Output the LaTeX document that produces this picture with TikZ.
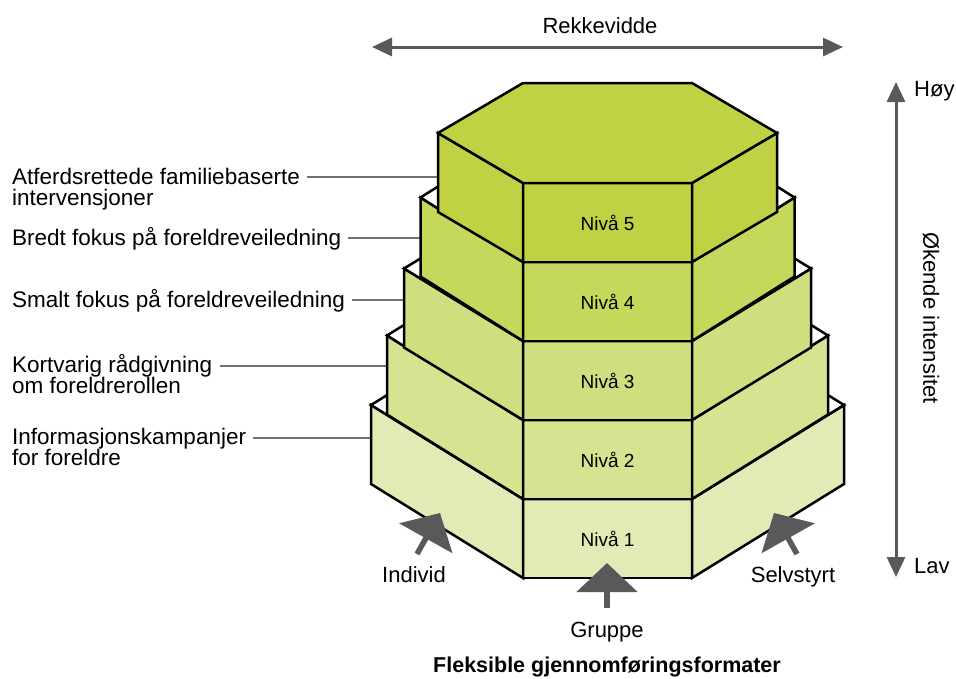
\documentclass[tikz,border=0pt]{standalone}
\usepackage{fontspec}
\setmainfont{Liberation Sans}
\usetikzlibrary{positioning,arrows.meta}

\definecolor{lvA}{RGB}{226,234,181}
\definecolor{lvB}{RGB}{215,227,145}
\definecolor{lvC}{RGB}{208,222,128}
\definecolor{lvD}{RGB}{198,216,92}
\definecolor{lvE}{RGB}{192,210,68}
\definecolor{pil}{RGB}{89,89,89}
\definecolor{strek}{RGB}{112,112,112}

\begin{document}
\begin{tikzpicture}[x=1pt, y=-1pt,
	face/.style={draw, line width=2.5pt, minimum width=169pt, minimum height=79pt, inner sep=0pt, outer sep=0pt, font=\fontsize{19}{19}\selectfont},
	side/.style={draw, line width=2.5pt},
	lab/.style={inner xsep=7pt, inner ysep=0pt, align=left, font=\fontsize{22.5}{21}\selectfont},
	txt/.style={inner sep=0pt, font=\fontsize{22}{22}\selectfont},
	leader/.style={draw=strek, line width=1.5pt},
	dbl/.style={{Triangle[length=20pt,width=18pt]}-{Triangle[length=20pt,width=18pt]}, draw=pil, fill=pil, line width=3pt},
	fat/.style={-{Triangle[length=29pt,width=60pt]}, draw=pil, fill=pil, line width=5.5pt}]
	\useasboundingbox (0,0) rectangle (956,678);

	% labels to the left (base = last line)
	\node[lab, anchor=base west] (lab5) at (5,205) {Atferdsrettede familiebaserte\\intervensjoner};
	\node[lab, anchor=base west] (lab4) at (5,245) {Bredt fokus på foreldreveiledning};
	\node[lab, anchor=base west] (lab3) at (5,307) {Smalt fokus på foreldreveiledning};
	\node[lab, anchor=base west] (lab2) at (5,393) {Kortvarig rådgivning\\om foreldrerollen};
	\node[lab, anchor=base west] (lab1) at (5,465) {Informasjonskampanjer\\for foreldre};
	\foreach \n/\x/\y in {5/438/177, 4/420.5/238, 3/404/300, 2/387/366, 1/371/438}{
		\coordinate (e\n) at (\x,\y);
		\draw[leader] (e\n) -- (e\n -| lab\n.east);
	}

	% the stack, bottom level first
	\foreach \n/\y/\dx/\dy/\col/\tc in {1/538.5/152/94/lvA/white, 2/459.5/136/84.5/lvB/white, 3/380.5/119/72.5/lvC/white, 4/301.5/102.5/64.5/lvD/white, 5/222.5/85/50/lvE/lvE}{
		\node[face, fill=\col] (niv\n) at (607.5,\y) {Nivå \n};
		\draw[side, fill=\col] (niv\n.north west) -- ++(-\dx,-\dy) -- ++(0,79) -- (niv\n.south west) -- cycle;
		\draw[side, fill=\col] (niv\n.north east) -- ++(\dx,-\dy) -- ++(0,79) -- (niv\n.south east) -- cycle;
		\draw[side, fill=\tc] (niv\n.north west) -- ++(-\dx,-\dy) -- ++(\dx,-\dy) -- ++(169,0) -- ++(\dx,\dy) -- (niv\n.north east) -- cycle;
	}

	% reach and intensity
	\coordinate (rL) at (372,47);
	\coordinate (rR) at (843,47);
	\draw[dbl] (rL) -- (rR);
	\node[txt, anchor=base] (range) at (600,33) {Rekkevidde};
	\coordinate (hi) at (896,82);
	\coordinate (lo) at (896,577);
	\draw[dbl] (lo) -- (hi);
	\node[txt, anchor=base west] (hoy) at (914,96) {Høy};
	\node[txt, anchor=base west] (lav) at (914,573) {Lav};
	\node[txt, rotate=-90] (intens) at (931,318) {Økende intensitet};

	% delivery formats
	\coordinate (indT) at (417,554);
	\coordinate (indH) at (440,513);
	\coordinate (grpT) at (607,608);
	\coordinate (grpH) at (607,563);
	\coordinate (selT) at (797,554);
	\coordinate (selH) at (774,513);
	\draw[fat] (indT) -- (indH);
	\draw[fat] (grpT) -- (grpH);
	\draw[fat] (selT) -- (selH);
	\node[txt, below=12pt of indT, xshift=-3pt] (individ) {Individ};
	\node[txt, below=14pt of grpT] (gruppe) {Gruppe};
	\node[txt, below=12pt of selT, xshift=-4pt] (selv) {Selvstyrt};
	\node[txt, below=14pt of gruppe, font=\bfseries\fontsize{21.5}{22}\selectfont] (format) {Fleksible gjennomføringsformater};
\end{tikzpicture}
\end{document}
